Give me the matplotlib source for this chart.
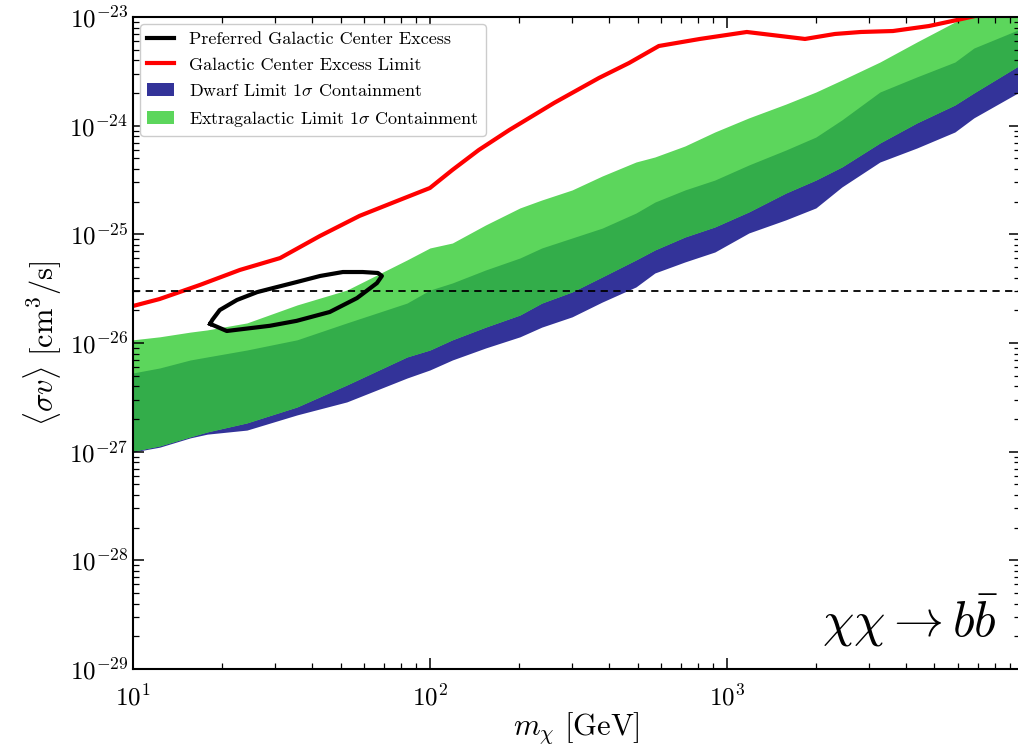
import numpy as np
import matplotlib
matplotlib.use("Agg")
import matplotlib.pyplot as plt
from matplotlib.patches import Patch
from matplotlib.lines import Line2D
from matplotlib.ticker import FuncFormatter, LogLocator

plt.rcParams["font.family"] = "serif"
plt.rcParams["font.serif"] = ["cmr10"]
plt.rcParams["mathtext.fontset"] = "cm"
plt.rcParams["axes.formatter.use_mathtext"] = True

# Cross sections below are in units of 1e-26 cm^3/s
SCALE = 1e-26

# Galactic center excess limit (red)
gce_mass = [10, 12.3, 16.8, 22.9, 31.3, 42.6, 58, 79, 100, 119, 146, 185, 262,
            371, 468, 590, 811, 1167, 1832, 2311, 2826, 3624, 4789, 6185, 7390]
gce_limit = [2.19, 2.54, 3.42, 4.7, 6.05, 9.65, 14.8, 20.7, 26.7, 39.1, 59.7,
             91.2, 162, 275, 377, 541, 628, 728, 628, 698, 728, 743, 826, 960,
             1070]

# Preferred galactic center excess contour (black, closed)
pref_mass = [18.2, 20.7, 28.9, 35.6, 46.0, 56.8, 66.3, 68.9, 66.8, 59.4, 50.9,
             42.7, 35.6, 30.5, 26.2, 22.4, 19.6, 18.5, 18.2]
pref_sv = [1.50, 1.29, 1.44, 1.60, 1.93, 2.59, 3.56, 4.14, 4.41, 4.50, 4.50,
           4.14, 3.64, 3.27, 2.94, 2.49, 2.01, 1.63, 1.50]

# 1 sigma containment bands
band_mass = [10, 12.3, 15.6, 17.8, 24.2, 35.7, 52.5, 83.7, 100, 119, 154, 201,
             238, 301, 380, 494, 572, 722, 911, 1186, 1580, 1994, 2439, 3275,
             4362, 5858, 6786, 10000]
dwarf_lo = [0.0993, 0.110, 0.134, 0.145, 0.158, 0.218, 0.287, 0.476, 0.565,
            0.698, 0.900, 1.14, 1.40, 1.74, 2.38, 3.28, 4.41, 5.57, 6.88, 10.3,
            13.6, 17.5, 27.3, 46.3, 62.3, 87.5, 118, 215]
dwarf_hi = [0.530, 0.589, 0.698, 0.744, 0.862, 1.07, 1.53, 2.33, 3.07, 3.57,
            4.70, 6.06, 7.49, 9.25, 11.4, 15.7, 19.8, 25.6, 31.6, 43.5, 59.7,
            78.6, 113, 204, 281, 385, 518, 800]
eg_lo = [0.101, 0.113, 0.137, 0.152, 0.184, 0.258, 0.411, 0.744, 0.862, 1.07,
         1.40, 1.81, 2.33, 2.95, 4.05, 5.81, 7.18, 9.45, 11.7, 16.1, 24.0,
         31.6, 41.7, 69.3, 106, 155, 200, 380]
eg_hi = [1.07, 1.14, 1.26, 1.32, 1.53, 2.24, 3.07, 5.81, 7.49, 8.32, 12.2,
         17.5, 20.7, 25.6, 34.4, 46.3, 51.5, 65.0, 87.5, 118, 158, 204, 263,
         385, 589, 899, 1066, 1700]

thermal_relic = 3.0

fig = plt.figure(figsize=(10.18, 7.49), dpi=100)
# right edge of the axes sits just past the picture edge, as in the original
ax = fig.add_axes([0.1306, 0.1068, (1020 - 133) / 1018, 0.8705])

m = np.array(band_mass)
d_lo = np.array(dwarf_lo) * SCALE
d_hi = np.array(dwarf_hi) * SCALE
e_lo = np.array(eg_lo) * SCALE
e_hi = np.array(eg_hi) * SCALE

blue = "#333399"
light_green = "#5cd65c"
dark_green = "#33ad4a"

ax.fill_between(m, d_lo, d_hi, color=blue, lw=0)
ax.fill_between(m, e_lo, e_hi, color=light_green, lw=0)
# overlap of the two bands
ov_lo = np.maximum(d_lo, e_lo)
ov_hi = np.minimum(d_hi, e_hi)
ax.fill_between(m, ov_lo, ov_hi, where=ov_hi > ov_lo, color=dark_green, lw=0)

ax.plot(gce_mass, np.array(gce_limit) * SCALE, color="red", lw=3)
ax.plot(pref_mass, np.array(pref_sv) * SCALE, color="black", lw=3)
ax.axhline(thermal_relic * SCALE, color="black", ls=(0, (4, 3)), lw=1.3)

ax.set_xscale("log")
ax.set_yscale("log")
ax.set_xlim(10, 9700)
ax.set_ylim(1e-29, 1e-23)

fmt = FuncFormatter(lambda v, p: r"$10^{%d}$" % round(np.log10(v)))
ax.xaxis.set_major_formatter(fmt)
ax.yaxis.set_major_formatter(fmt)
ax.yaxis.set_major_locator(LogLocator(base=10, numticks=20))
ax.yaxis.set_minor_locator(LogLocator(base=10, subs=np.arange(2, 10), numticks=20))

ax.tick_params(which="both", direction="in", top=True, right=True, labelsize=18)
ax.tick_params(which="major", length=8, width=1.1)
ax.tick_params(which="minor", length=4, width=0.9)
ax.tick_params(axis="x", pad=11)
for sp in ax.spines.values():
    sp.set_linewidth(1.5)

ax.set_xlabel(r"$m_\chi\ [\mathrm{GeV}]$", fontsize=22, labelpad=0)
ax.set_ylabel(r"$\langle\sigma v\rangle\ [\mathrm{cm}^3/\mathrm{s}]$", fontsize=22)

ax.text(0.975, 0.03, r"$\chi\chi \to b\bar{b}$", transform=ax.transAxes,
        ha="right", va="bottom", fontsize=36)

handles = [
    Line2D([], [], color="black", lw=3),
    Line2D([], [], color="red", lw=3),
    Patch(facecolor=blue, edgecolor="none"),
    Patch(facecolor=light_green, edgecolor="none"),
]
labels = [
    "Preferred Galactic Center Excess",
    "Galactic Center Excess Limit",
    r"Dwarf Limit 1$\sigma$ Containment",
    r"Extragalactic Limit 1$\sigma$ Containment",
]
ax.legend(handles, labels, loc="upper left", fontsize=13, frameon=True,
          fancybox=True, framealpha=1, edgecolor="#cccccc",
          borderaxespad=0.4, handlelength=1.5, labelspacing=0.55)

fig.savefig("out.png", dpi=100)
